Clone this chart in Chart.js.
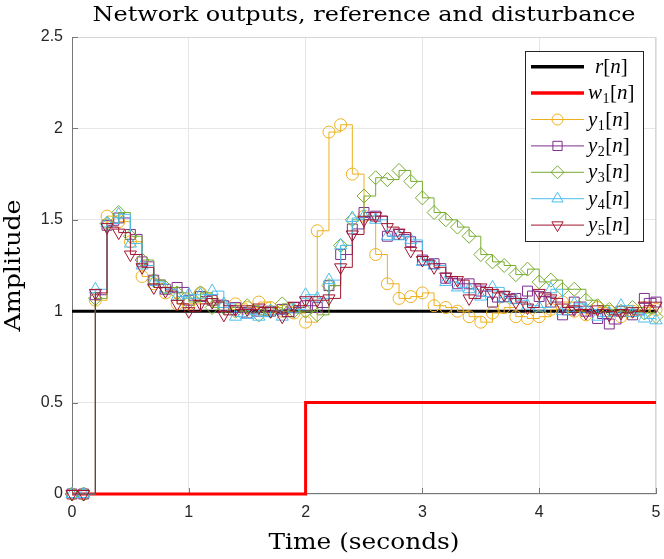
<!DOCTYPE html>
<html>
<head>
<meta charset="utf-8">
<script src="https://cdn.jsdelivr.net/npm/chart.js@4.4.0/dist/chart.umd.min.js"></script>
<style>
  html, body { margin: 0; padding: 0; background: #fff; }
</style>
</head>
<body>
<canvas id="myChart" width="664" height="559"></canvas>
<script>
// sample times (seconds)
var timeSec = [0, 0.1, 0.2, 0.3, 0.4, 0.5, 0.6, 0.7, 0.8, 0.9, 1, 1.1, 1.2, 1.3, 1.4, 1.5, 1.6, 1.7, 1.8, 1.9,
  2, 2.1, 2.2, 2.3, 2.4, 2.5, 2.6, 2.7, 2.8, 2.9, 3, 3.1, 3.2, 3.3, 3.4, 3.5, 3.6, 3.7, 3.8, 3.9,
  4, 4.1, 4.2, 4.3, 4.4, 4.5, 4.6, 4.7, 4.8, 4.9, 5];

var refR = [1, 1, 1, 1, 1, 1, 1, 1, 1, 1, 1, 1, 1, 1, 1, 1, 1, 1, 1, 1,
  1, 1, 1, 1, 1, 1, 1, 1, 1, 1, 1, 1, 1, 1, 1, 1, 1, 1, 1, 1,
  1, 1, 1, 1, 1, 1, 1, 1, 1, 1, 1];

var distW1 = [0, 0, 0, 0, 0, 0, 0, 0, 0, 0, 0, 0, 0, 0, 0, 0, 0, 0, 0, 0,
  0.5, 0.5, 0.5, 0.5, 0.5, 0.5, 0.5, 0.5, 0.5, 0.5, 0.5, 0.5, 0.5, 0.5, 0.5, 0.5, 0.5, 0.5, 0.5, 0.5,
  0.5, 0.5, 0.5, 0.5, 0.5, 0.5, 0.5, 0.5, 0.5, 0.5, 0.5];

var outY1 = [0, 0, 1.06, 1.52, 1.49, 1.38, 1.19, 1.15, 1.10, 1.04, 1.04, 1.10, 1.06, 1.03, 1.04, 1.02, 1.05, 1.02, 1.00, 0.99,
  0.94, 1.44, 1.98, 2.02, 1.75, 1.52, 1.31, 1.15, 1.07, 1.08, 1.10, 1.03, 1.02, 1.00, 0.97, 0.94, 0.99, 1.02, 0.97, 0.96,
  0.97, 1.01, 1.05, 1.00, 0.98, 1.02, 1.00, 0.97, 1.00, 1.02, 1.01];

var outY2 = [0, 0, 1.09, 1.47, 1.51, 1.42, 1.27, 1.17, 1.12, 1.13, 1.06, 1.08, 1.06, 1.03, 1.02, 0.99, 1.00, 1.00, 1.01, 1.02,
  1.03, 1.02, 1.14, 1.31, 1.45, 1.54, 1.52, 1.41, 1.42, 1.38, 1.28, 1.26, 1.18, 1.15, 1.15, 1.11, 1.05, 1.08, 1.07, 1.11,
  1.08, 1.05, 0.98, 1.05, 1.00, 0.96, 0.93, 1.00, 0.98, 1.07, 1.05];

var outY3 = [0, 0, 1.07, 1.48, 1.54, 1.41, 1.28, 1.17, 1.13, 1.10, 1.05, 1.10, 1.02, 1.02, 1.00, 1.03, 0.98, 1.00, 1.04, 1.00,
  1.00, 0.98, 1.14, 1.36, 1.50, 1.63, 1.73, 1.72, 1.77, 1.71, 1.62, 1.54, 1.50, 1.46, 1.41, 1.31, 1.27, 1.25, 1.20, 1.23,
  1.16, 1.17, 1.12, 1.12, 1.06, 1.03, 1.01, 1.00, 1.02, 0.99, 0.97];

var outY4 = [0, 0, 1.12, 1.48, 1.53, 1.37, 1.25, 1.16, 1.12, 1.08, 1.09, 1.09, 1.11, 1.04, 0.97, 0.98, 0.97, 1.00, 0.97, 1.01,
  1.09, 1.07, 1.17, 1.36, 1.51, 1.52, 1.50, 1.41, 1.41, 1.39, 1.27, 1.25, 1.16, 1.13, 1.12, 1.08, 1.13, 1.07, 1.06, 1.03,
  1.02, 1.12, 1.00, 1.04, 1.01, 0.97, 0.99, 1.03, 0.99, 0.96, 0.95];

var outY5 = [0, 0, 1.10, 1.46, 1.43, 1.31, 1.24, 1.13, 1.11, 1.04, 1.00, 1.04, 1.05, 0.98, 1.01, 1.01, 1.02, 1.00, 0.97, 1.03,
  1.06, 1.06, 1.07, 1.24, 1.42, 1.50, 1.52, 1.46, 1.43, 1.33, 1.28, 1.24, 1.19, 1.17, 1.07, 1.13, 1.10, 1.09, 1.05, 1.02,
  1.10, 1.07, 1.02, 1.01, 0.99, 1.01, 0.98, 0.99, 1.00, 1.03, 1.03];

var xTicks = [0, 1, 2, 3, 4, 5];
var yTicks = [0, 0.5, 1, 1.5, 2, 2.5];

var chartTitle = 'Network outputs, reference and disturbance';
var xTitle = 'Time (seconds)';
var yTitle = 'Amplitude';

function pairs(arr) {
  return timeSec.map(function (t, i) { return { x: t, y: arr[i] }; });
}

// legend entries: base letter, subscript, colour, line width, marker
var legendItems = [
  { base: 'r', sub: '', color: '#000000', width: 3.5, style: false },
  { base: 'w', sub: '1', color: '#FF0000', width: 3.5, style: false },
  { base: 'y', sub: '1', color: '#EDB120', width: 1, style: 'circle', rot: 0, r: 5.5 },
  { base: 'y', sub: '2', color: '#7E2F8E', width: 1, style: 'rect', rot: 0, r: 6.5 },
  { base: 'y', sub: '3', color: '#77AC30', width: 1, style: 'rectRot', rot: 0, r: 6.5 },
  { base: 'y', sub: '4', color: '#4DBEEE', width: 1, style: 'triangle', rot: 0, r: 6.5 },
  { base: 'y', sub: '5', color: '#A2142F', width: 1, style: 'triangle', rot: 180, r: 6.5 }
];

function series(label, arr, color, width, style, rot, r, order) {
  return {
    label: label,
    data: pairs(arr),
    borderColor: color,
    borderWidth: width,
    stepped: 'before',
    fill: false,
    clip: false,
    order: order,
    pointStyle: style,
    pointRotation: rot,
    pointRadius: style ? r : 0,
    pointBorderWidth: 1,
    pointBorderColor: color,
    pointBackgroundColor: 'rgba(0,0,0,0)'
  };
}

function drawFit(ctx, text, x, y, size, target, rot) {
  ctx.save();
  ctx.font = size + 'px "DejaVu Serif"';
  var w = ctx.measureText(text).width;
  ctx.translate(x, y);
  if (rot) ctx.rotate(rot);
  ctx.scale(target / w, 1);
  ctx.textAlign = 'center';
  ctx.textBaseline = 'alphabetic';
  ctx.fillStyle = '#000';
  ctx.fillText(text, 0, 0);
  ctx.restore();
}

var decorPlugin = {
  id: 'decor',
  beforeDatasetsDraw: function (chart) {
    var ctx = chart.ctx, a = chart.chartArea;
    var xs = chart.scales.x, ys = chart.scales.y;
    ctx.save();
    // box
    ctx.lineWidth = 1;
    ctx.strokeStyle = '#d6d6d6';
    ctx.beginPath();
    ctx.moveTo(a.left, a.top + 0.5); ctx.lineTo(a.right, a.top + 0.5);
    ctx.moveTo(a.right - 0.5, a.top); ctx.lineTo(a.right - 0.5, a.bottom);
    ctx.stroke();
    ctx.strokeStyle = '#777777';
    ctx.beginPath();
    ctx.moveTo(a.left + 0.5, a.top); ctx.lineTo(a.left + 0.5, a.bottom);
    ctx.moveTo(a.left, a.bottom - 0.5); ctx.lineTo(a.right, a.bottom - 0.5);
    // inward ticks
    yTicks.forEach(function (v) {
      var py = Math.round(ys.getPixelForValue(v)) + 0.5;
      ctx.moveTo(a.left, py); ctx.lineTo(a.left + 6, py);
    });
    xTicks.forEach(function (v) {
      var px = Math.round(xs.getPixelForValue(v)) + 0.5;
      ctx.moveTo(px, a.bottom); ctx.lineTo(px, a.bottom - 6);
    });
    ctx.stroke();
    ctx.restore();
  },
  afterDraw: function (chart) {
    var ctx = chart.ctx, a = chart.chartArea;
    var cx = (a.left + a.right) / 2;
    drawFit(ctx, chartTitle, cx, 21, 21, 543, 0);
    drawFit(ctx, xTitle, cx, 549, 22, 191, 0);
    drawFit(ctx, yTitle, 20, (a.top + a.bottom) / 2, 22, 132, -Math.PI / 2);

    // legend
    var L = 525, T = 51, W = 118, H = 190, row = 26.4;
    ctx.save();
    ctx.fillStyle = '#fff';
    ctx.fillRect(L, T, W, H);
    ctx.strokeStyle = '#262626';
    ctx.lineWidth = 1;
    ctx.strokeRect(L + 0.5, T + 0.5, W, H);
    legendItems.forEach(function (it, i) {
      var y = T + 15.7 + i * row;
      ctx.strokeStyle = it.color;
      ctx.lineWidth = it.width;
      ctx.beginPath();
      ctx.moveTo(531, y); ctx.lineTo(584, y);
      ctx.stroke();
      if (it.style) {
        ctx.fillStyle = 'rgba(0,0,0,0)';
        ctx.strokeStyle = it.color;
        ctx.lineWidth = 1;
        Chart.helpers.drawPoint(ctx, {
          pointStyle: it.style, rotation: it.rot, radius: it.r, borderWidth: 1
        }, 557.5, y);
      }
      var x = it.sub ? 588 : 595;
      var by = y + 6;
      ctx.fillStyle = '#000';
      ctx.textAlign = 'left';
      ctx.textBaseline = 'alphabetic';
      ctx.font = 'italic 21px "Liberation Serif"';
      ctx.fillText(it.base, x, by); x += ctx.measureText(it.base).width;
      if (it.sub) {
        ctx.font = '14px "Liberation Serif"';
        ctx.fillText(it.sub, x + 0.5, by + 4); x += ctx.measureText(it.sub).width + 1;
      }
      ctx.font = '21px "Liberation Serif"';
      ctx.fillText('[', x, by); x += ctx.measureText('[').width;
      ctx.font = 'italic 21px "Liberation Serif"';
      ctx.fillText('n', x, by); x += ctx.measureText('n').width;
      ctx.font = '21px "Liberation Serif"';
      ctx.fillText(']', x, by);
    });
    ctx.restore();
  }
};

function plainTick(v) { return String(v); }

var element = document.getElementById('myChart').getContext('2d');

var chartData = {
  datasets: [
    series('r[n]', refR, '#000000', 3, false, 0, 0, 7),
    series('w1[n]', distW1, '#FF0000', 3, false, 0, 0, 6),
    series('y1[n]', outY1, '#EDB120', 1, 'circle', 0, 6, 5),
    series('y2[n]', outY2, '#7E2F8E', 1, 'rect', 0, 7, 4),
    series('y3[n]', outY3, '#77AC30', 1, 'rectRot', 0, 7, 3),
    series('y4[n]', outY4, '#4DBEEE', 1, 'triangle', 0, 7, 2),
    series('y5[n]', outY5, '#A2142F', 1, 'triangle', 180, 7, 1)
  ]
};

var chartOptions = {
  responsive: false,
  animation: false,
  layout: { padding: { left: 0, top: 37, right: 8, bottom: 0 } },
  plugins: { legend: { display: false }, title: { display: false }, tooltip: { enabled: false } },
  scales: {
    x: {
      type: 'linear', min: 0, max: 5,
      afterFit: function (s) { s.height = 65; s.paddingLeft = 0; s.paddingRight = 0; },
      afterBuildTicks: function (s) { s.ticks = xTicks.map(function (v) { return { value: v }; }); },
      border: { display: false },
      grid: { color: '#e6e6e6', drawTicks: false },
      ticks: { padding: 9, color: '#262626', callback: plainTick, font: { family: '"Liberation Sans"', size: 16 } }
    },
    y: {
      type: 'linear', min: 0, max: 2.5,
      afterFit: function (s) { s.width = 72; s.paddingTop = 0; s.paddingBottom = 0; },
      afterBuildTicks: function (s) { s.ticks = yTicks.map(function (v) { return { value: v }; }); },
      border: { display: false },
      grid: { color: '#e6e6e6', drawTicks: false },
      ticks: { padding: 9, color: '#262626', callback: plainTick, font: { family: '"Liberation Sans"', size: 16 } }
    }
  }
};

var chart = new Chart(element, { type: 'line', data: chartData, options: chartOptions, plugins: [decorPlugin] });
</script>
</body>
</html>
